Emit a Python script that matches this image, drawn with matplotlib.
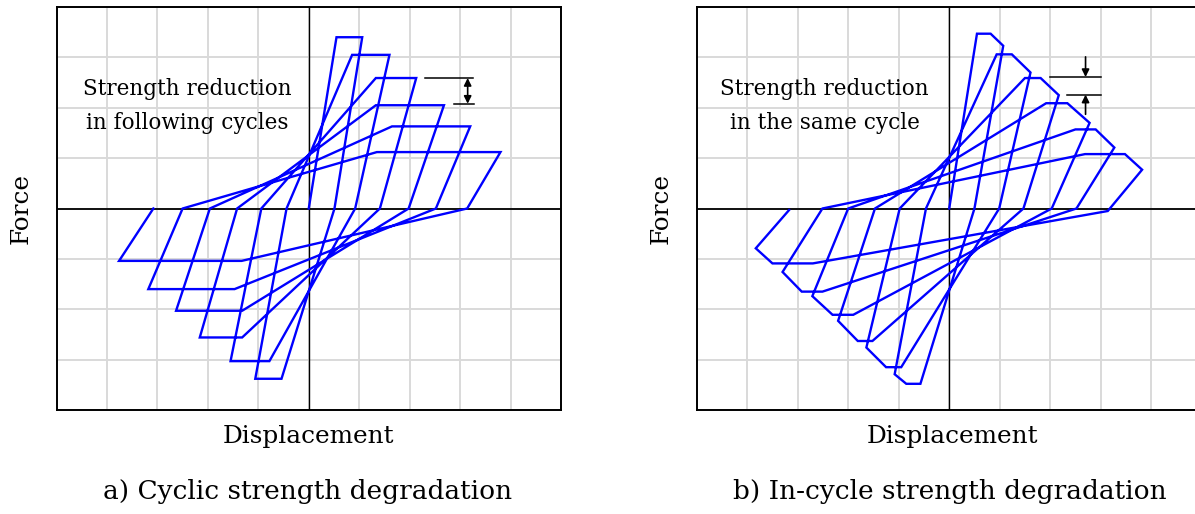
import matplotlib.pyplot as plt

# a) cyclic strength degradation -- one entry per cycle (grid units)
a_pos_peak = [3.40, 3.05, 2.59, 2.05, 1.63, 1.12]
a_pos_start = [0.55, 0.86, 1.33, 1.33, 1.65, 1.35]
a_pos_end = [1.06, 1.60, 2.13, 2.68, 3.20, 3.80]
a_pos_zero = [0.51, 0.92, 1.41, 1.98, 2.52, 3.14]
a_neg_peak = [-3.38, -3.03, -2.56, -2.03, -1.60, -1.04]
a_neg_start = [-0.54, -0.78, -1.32, -1.32, -1.47, -1.33]
a_neg_end = [-1.06, -1.55, -2.16, -2.63, -3.18, -3.76]
a_neg_zero = [-0.44, -0.94, -1.42, -1.96, -2.50, -3.08]

# b) in-cycle strength degradation
b_pos_peak = [3.47, 3.06, 2.59, 2.09, 1.57, 1.08]
b_pos_start = [0.55, 0.94, 1.50, 1.92, 2.50, 2.69]
b_pos_flat = [0.82, 1.24, 1.81, 2.34, 2.90, 3.48]
b_pos_cx = [1.07, 1.61, 2.17, 2.78, 3.27, 3.82]
b_pos_cy = [3.23, 2.70, 2.25, 1.70, 1.21, 0.77]
b_pos_zero = [0.50, 0.99, 1.47, 2.03, 2.52, 3.14]
b_pos_zy = [0, 0, 0, 0, 0, -0.05]
b_neg_peak = [-3.48, -3.15, -2.63, -2.11, -1.65, -1.09]
b_neg_start = [-0.57, -0.95, -1.52, -1.90, -2.51, -2.70]
b_neg_flat = [-0.85, -1.25, -1.81, -2.31, -2.92, -3.50]
b_neg_cx = [-1.08, -1.64, -2.20, -2.71, -3.30, -3.83]
b_neg_cy = [-3.29, -2.76, -2.23, -1.74, -1.26, -0.79]
b_neg_zero = [-0.46, -0.98, -1.47, -2.00, -2.51, -3.17]
b_neg_zy = [0, 0, 0, 0, 0, -0.03]

BLUE = '#0000ff'
SERIF = ['DejaVu Serif']


def path_a():
    xs, ys = [0.0], [0.0]
    for k in range(len(a_pos_peak)):
        xs += [a_pos_start[k], a_pos_end[k], a_pos_zero[k],
               a_neg_start[k], a_neg_end[k], a_neg_zero[k]]
        ys += [a_pos_peak[k], a_pos_peak[k], 0,
               a_neg_peak[k], a_neg_peak[k], 0]
    return xs, ys


def path_b():
    xs, ys = [0.0], [0.0]
    for k in range(len(b_pos_peak)):
        xs += [b_pos_start[k], b_pos_flat[k], b_pos_cx[k], b_pos_zero[k],
               b_neg_start[k], b_neg_flat[k], b_neg_cx[k], b_neg_zero[k]]
        ys += [b_pos_peak[k], b_pos_peak[k], b_pos_cy[k], b_pos_zy[k],
               b_neg_peak[k], b_neg_peak[k], b_neg_cy[k], b_neg_zy[k]]
    return xs, ys


def setup(ax):
    ax.set_xlim(-5, 5)
    ax.set_ylim(-4, 4)
    ax.set_xticks(range(-5, 6))
    ax.set_yticks(range(-4, 5))
    ax.tick_params(length=0, labelbottom=False, labelleft=False)
    ax.grid(True, color='#d9d9d9', lw=1.4)
    ax.axhline(0, color='black', lw=1.3, zorder=2)
    ax.axvline(0, color='black', lw=1.0, zorder=2)
    for s in ax.spines.values():
        s.set_linewidth(1.4)


fig = plt.figure(figsize=(11.95, 5.14), dpi=100)
W, H = 1195, 514
ax1 = fig.add_axes([56.5 / W, 104 / H, 504.5 / W, 403 / H])
ax2 = fig.add_axes([696.7 / W, 104 / H, 505 / W, 403 / H])

for ax in (ax1, ax2):
    setup(ax)

x, y = path_a()
ax1.plot(x, y, color=BLUE, lw=1.7, zorder=3, solid_joinstyle='miter')
x, y = path_b()
ax2.plot(x, y, color=BLUE, lw=1.7, zorder=3, solid_joinstyle='miter')

txt = dict(fontsize=15.5, family=SERIF, ha='center', va='center',
           linespacing=1.7, zorder=4)
ax1.text(-2.40, 2.04, 'Strength reduction\nin following cycles', **txt)
ax2.text(-2.47, 2.04, 'Strength reduction\nin the same cycle', **txt)

# annotation in a)
ax1.plot([2.31, 3.26], [2.59, 2.59], color='black', lw=1.1)
ax1.plot([2.87, 3.28], [2.08, 2.08], color='black', lw=1.1)
ax1.annotate('', xy=(3.15, 2.08), xytext=(3.15, 2.59),
             arrowprops=dict(arrowstyle='<|-|>', color='black', lw=1.2,
                             mutation_scale=11, shrinkA=0, shrinkB=0))

# annotation in b)
ax2.plot([2.00, 3.01], [2.61, 2.61], color='black', lw=1.1)
ax2.plot([2.34, 3.01], [2.26, 2.26], color='black', lw=1.1)
ax2.annotate('', xy=(2.70, 2.61), xytext=(2.70, 3.01),
             arrowprops=dict(arrowstyle='-|>', color='black', lw=1.2,
                             mutation_scale=11, shrinkA=0, shrinkB=0))
ax2.annotate('', xy=(2.70, 2.26), xytext=(2.70, 1.87),
             arrowprops=dict(arrowstyle='-|>', color='black', lw=1.2,
                             mutation_scale=11, shrinkA=0, shrinkB=0))

lab = dict(fontsize=17.8, family=SERIF, ha='center', va='center')
fig.text(308 / W, 1 - 437 / H, 'Displacement', **lab)
fig.text(952 / W, 1 - 437 / H, 'Displacement', **lab)
fig.text(21 / W, 1 - 208 / H, 'Force', rotation=90, **lab)
fig.text(661 / W, 1 - 208 / H, 'Force', rotation=90, **lab)

cap = dict(fontsize=19, family=SERIF, ha='center', va='center')
fig.text(308 / W, 1 - 491 / H, 'a) Cyclic strength degradation', **cap)
fig.text(950 / W, 1 - 491 / H, 'b) In-cycle strength degradation', **cap)

fig.savefig('out.png', dpi=100)
